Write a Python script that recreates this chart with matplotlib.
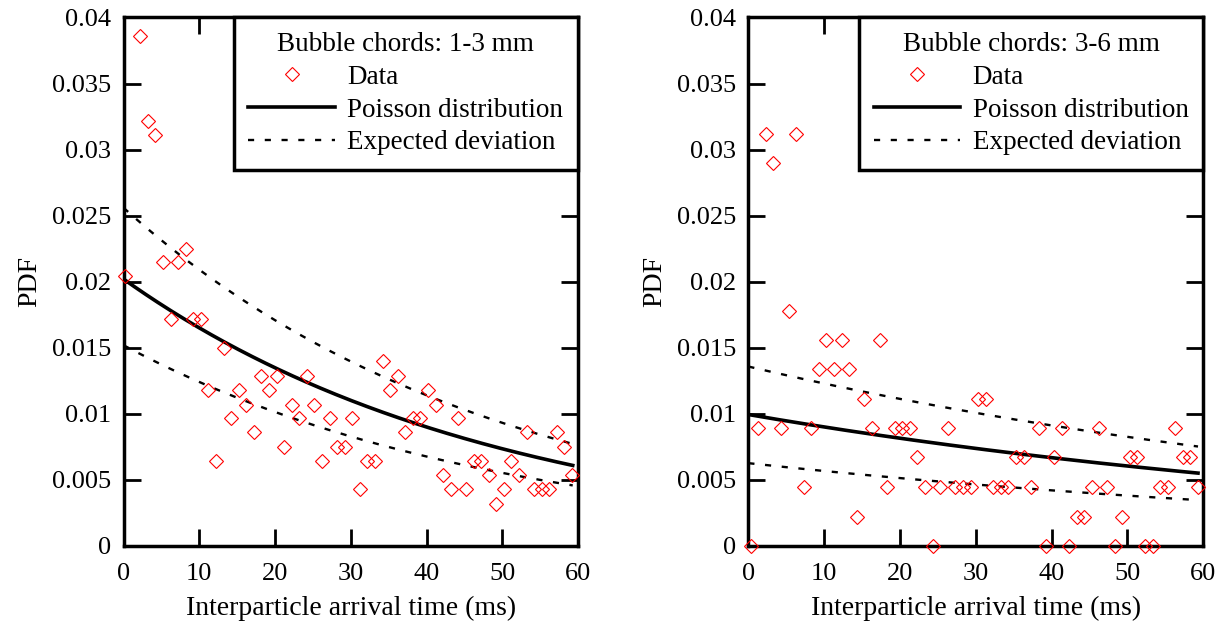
import numpy as np
import matplotlib
matplotlib.use("Agg")
import matplotlib.pyplot as plt

# bin centres (ms) and PDF values
time_small = [0.2, 2.2, 3.2, 4.2, 5.2, 6.2, 7.2, 8.2, 9.2, 10.2,
              11.2, 12.2, 13.2, 14.2, 15.2, 16.2, 17.2, 18.2, 19.2, 20.2,
              21.2, 22.2, 23.2, 24.2, 25.2, 26.2, 27.2, 28.2, 29.2, 30.2,
              31.2, 32.2, 33.2, 34.2, 35.2, 36.2, 37.2, 38.2, 39.2, 40.2,
              41.2, 42.2, 43.2, 44.2, 45.2, 46.2, 47.2, 48.2, 49.2, 50.2,
              51.2, 52.2, 53.2, 54.2, 55.2, 56.2, 57.2, 58.2, 59.2]
pdf_small = [0.0204, 0.0386, 0.0322, 0.0311, 0.0215, 0.0172, 0.0215, 0.0225, 0.0172, 0.0172,
             0.0118, 0.0064, 0.0150, 0.0097, 0.0118, 0.0107, 0.0086, 0.0129, 0.0118, 0.0129,
             0.0075, 0.0107, 0.0097, 0.0129, 0.0107, 0.0064, 0.0097, 0.0075, 0.0075, 0.0097,
             0.0043, 0.0064, 0.0064, 0.0140, 0.0118, 0.0129, 0.0086, 0.0097, 0.0097, 0.0118,
             0.0107, 0.0054, 0.0043, 0.0097, 0.0043, 0.0064, 0.0064, 0.0054, 0.0032, 0.0043,
             0.0064, 0.0054, 0.0086, 0.0043, 0.0043, 0.0043, 0.0086, 0.0075, 0.0054]

time_large = [0.3, 1.3, 2.3, 3.3, 4.3, 5.3, 6.3, 7.3, 8.3, 9.3,
              10.3, 11.3, 12.3, 13.3, 14.3, 15.3, 16.3, 17.3, 18.3, 19.3,
              20.3, 21.3, 22.3, 23.3, 24.3, 25.3, 26.3, 27.3, 28.3, 29.3,
              30.3, 31.3, 32.3, 33.3, 34.3, 35.3, 36.3, 37.3, 38.3, 39.3,
              40.3, 41.3, 42.3, 43.3, 44.3, 45.3, 46.3, 47.3, 48.3, 49.3,
              50.3, 51.3, 52.3, 53.3, 54.3, 55.3, 56.3, 57.3, 58.3, 59.3]
pdf_large = [0.0, 0.0089, 0.0312, 0.0290, 0.0089, 0.0178, 0.0312, 0.0045, 0.0089, 0.0134,
             0.0156, 0.0134, 0.0156, 0.0134, 0.0022, 0.0111, 0.0089, 0.0156, 0.0045, 0.0089,
             0.0089, 0.0089, 0.0067, 0.0045, 0.0, 0.0045, 0.0089, 0.0045, 0.0045, 0.0045,
             0.0111, 0.0111, 0.0045, 0.0045, 0.0045, 0.0067, 0.0067, 0.0045, 0.0089, 0.0,
             0.0067, 0.0089, 0.0, 0.0022, 0.0022, 0.0045, 0.0089, 0.0045, 0.0, 0.0022,
             0.0067, 0.0067, 0.0, 0.0, 0.0045, 0.0045, 0.0089, 0.0067, 0.0067, 0.0045]

# fitted arrival rates (1/ms) and the band factors of the expected deviation
rate_small = 0.0202
band_small = (0.752, 1.267)
rate_large = 0.00995
band_large = (0.63, 1.365)

titles = ["Bubble chords: 1-3 mm", "Bubble chords: 3-6 mm"]

plt.rcParams["font.family"] = ["Liberation Serif", "DejaVu Serif"]
plt.rcParams["font.size"] = 19

fig = plt.figure(figsize=(12.27, 6.28), dpi=100)
ax1 = fig.add_axes([0.1007, 0.1306, 0.3704, 0.8416])
ax2 = fig.add_axes([0.6099, 0.1306, 0.3708, 0.8416])

panels = [(ax1, time_small, pdf_small, rate_small, band_small, titles[0]),
          (ax2, time_large, pdf_large, rate_large, band_large, titles[1])]

for ax, t, p, rate, band, title in panels:
    ax.plot(t, p, linestyle="none", marker="D", markersize=6.8,
            markerfacecolor="none", markeredgecolor="#ff0000",
            markeredgewidth=0.8, label="Data", clip_on=False, zorder=3)
    tt = np.linspace(0, 59.3, 200)
    fit = rate * np.exp(-rate * tt)
    ax.plot(tt, fit, color="black", linewidth=2.6, label="Poisson distribution")
    ax.plot(tt, fit * band[1], color="black", linewidth=1.7,
            dashes=(2.6, 4.5), label="Expected deviation")
    ax.plot(tt, fit * band[0], color="black", linewidth=1.7, dashes=(2.6, 4.5))

    ax.set_xlim(0, 60)
    ax.set_ylim(0, 0.04)
    ax.set_xticks([0, 10, 20, 30, 40, 50, 60])
    ax.set_yticks([0, 0.005, 0.01, 0.015, 0.02, 0.025, 0.03, 0.035, 0.04])
    ax.set_yticklabels(["0", "0.005", "0.01", "0.015", "0.02", "0.025",
                        "0.03", "0.035", "0.04"])
    ax.tick_params(direction="in", length=12, width=2, top=True, right=True,
                   labelsize=19)
    ax.tick_params(axis="x", pad=12)
    ax.tick_params(axis="y", pad=9)
    for s in ax.spines.values():
        s.set_linewidth(2.5)
    ax.set_xlabel("Interparticle arrival time (ms)", fontsize=20, labelpad=8)
    ax.set_ylabel("PDF", fontsize=20, labelpad=7)

    leg = ax.legend(loc="upper right", title=title, frameon=True, fancybox=False,
                    framealpha=1, borderaxespad=0, fontsize=19.5, title_fontsize=19.5,
                    handlelength=3.2, handletextpad=0.45, labelspacing=0.28,
                    borderpad=0.55, numpoints=1)
    leg.get_frame().set_edgecolor("black")
    leg.get_frame().set_linewidth(2.5)

fig.savefig("out.png", dpi=100)
